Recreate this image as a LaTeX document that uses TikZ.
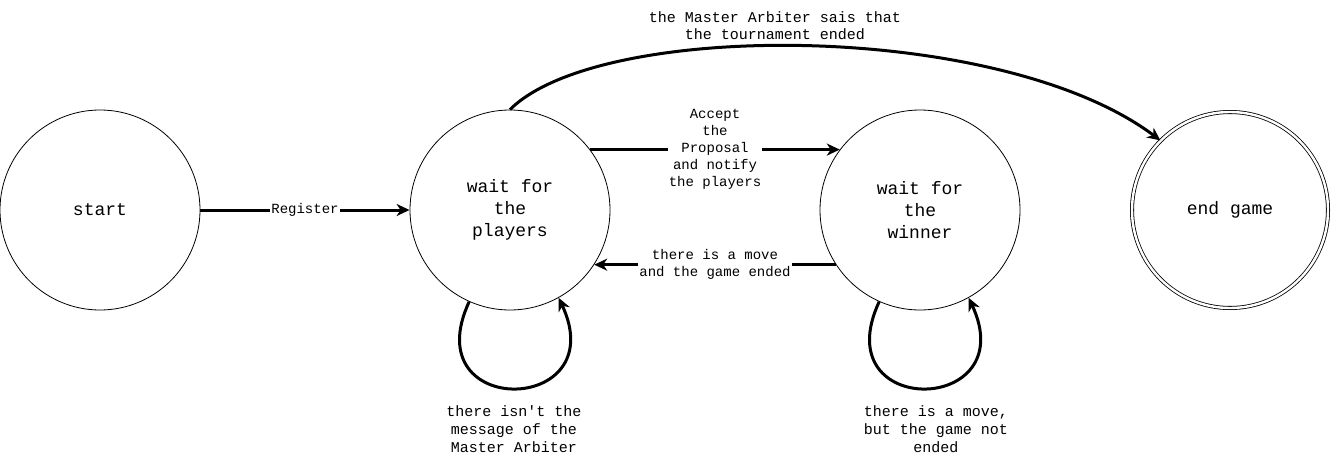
\documentclass[tikz,border=0pt]{standalone}
\usepackage{fontspec}
\setmainfont{Liberation Mono}
\usetikzlibrary{arrows.meta}

\tikzset{
  state/.style={circle, draw, line width=0.8pt, minimum size=200pt,
    inner sep=0pt, align=center, font=\fontsize{18}{22}\selectfont},
  final/.style={state, double, double distance=2.4pt, minimum size=196pt},
  trans/.style={line width=3pt,
    -{Stealth[length=13pt, width=12pt, inset=4pt]}},
  edgelabel/.style={fill=white, inner sep=1pt, align=center,
    font=\fontsize{14}{17}\selectfont},
  looplabel/.style={inner sep=0pt, align=center,
    font=\fontsize{15}{18}\selectfont},
  toplabel/.style={inner sep=0pt, align=center,
    font=\fontsize{15}{17}\selectfont},
}

\begin{document}
\begin{tikzpicture}[x=1pt, y=1pt]
%\draw[help lines, step=50] (0, 0) grid (1331, -466);
\useasboundingbox (0, 0) rectangle (1331, -466);

\pgfmathsetmacro\rowY{-210};
\pgfmathsetmacro\loopLength{130};

% states
\node [state] (start) at (100, \rowY) {start};
\node [state] (players) at (510, \rowY) {wait for\\the\\players};
\node [state] (winner) at (920, \rowY) {wait for\\the\\winner};
\node [final] (endgame) at (1230, \rowY) {end game};

% transitions
\draw [trans] (start) -- node [edgelabel] {Register} (players);

\draw [trans] (players.37) --
  node [edgelabel] {Accept\\the\\Proposal\\and notify\\the players}
  (winner.143);

\draw [trans] (winner.213) --
  node [edgelabel] {there is a move\\and the game ended}
  (players.-33);

\draw [trans]
  (players.north) .. controls +(90, 90) and +(-160, 120) ..
  (endgame.135)
    node [toplabel, midway, above=5pt, xshift=-34pt]
    {the Master Arbiter sais that\\the tournament ended};

% loops
\draw [trans]
  (players.246) .. controls +(245:\loopLength) and +(295:\loopLength) ..
  (players.299)
    node [looplabel, midway, below=16pt]
    {there isn\textquotesingle t the\\message of the\\Master Arbiter};

\draw [trans]
  (winner.246) .. controls +(245:\loopLength) and +(295:\loopLength) ..
  (winner.299)
    node [looplabel, midway, below=16pt, xshift=12pt]
    {there is a move,\\but the game not\\ended};

\end{tikzpicture}
\end{document}
